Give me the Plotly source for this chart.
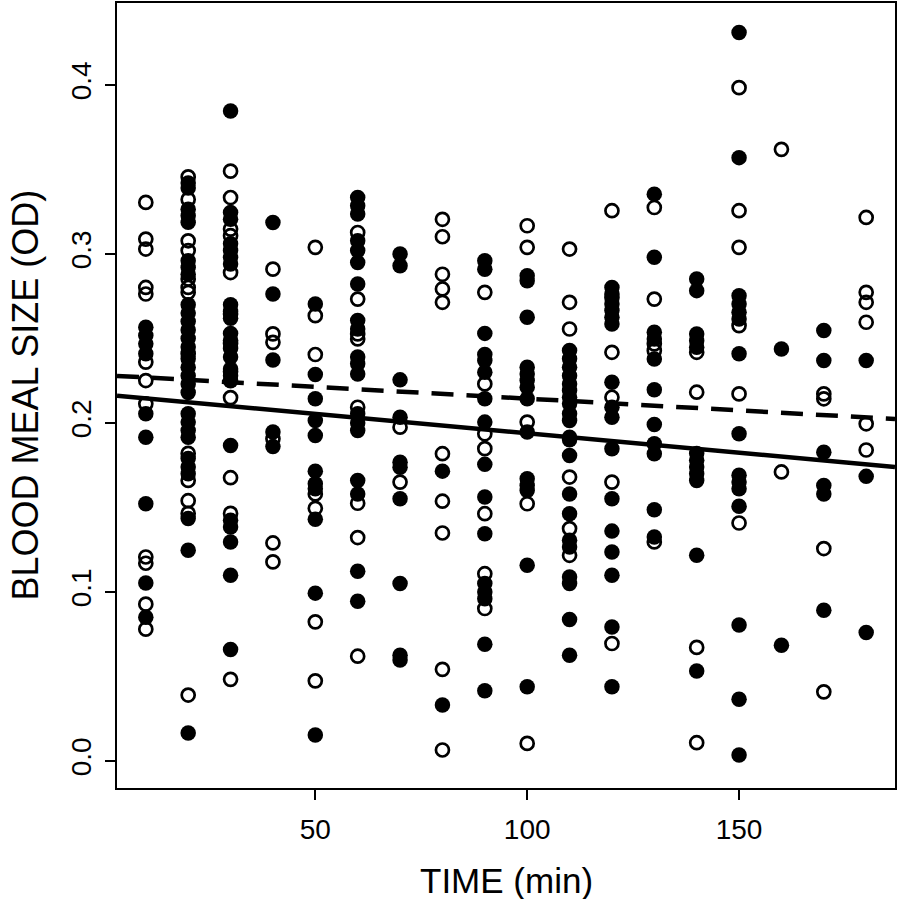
import plotly.graph_objects as go

# ---- data ----
times = [10, 20, 30, 40, 50, 60, 70, 80, 90, 100, 110, 120, 130, 140, 150, 160, 170, 180]

open_od = [
    [0.3305, 0.3088, 0.3029, 0.2802, 0.2763, 0.236, 0.2251, 0.2113, 0.1207, 0.117, 0.0928, 0.078],
    [0.3456, 0.3323, 0.3078, 0.302, 0.2852, 0.2802, 0.2773, 0.241, 0.182, 0.166, 0.154, 0.1465, 0.039],
    [0.349, 0.3334, 0.3147, 0.3108, 0.289, 0.2645, 0.247, 0.2305, 0.215, 0.1676, 0.1465, 0.0483],
    [0.291, 0.2527, 0.2477, 0.1906, 0.129, 0.1178],
    [0.3039, 0.2635, 0.2405, 0.158, 0.1495, 0.0823, 0.0474],
    [0.3127, 0.2733, 0.2527, 0.2497, 0.2093, 0.1525, 0.1322, 0.062],
    [0.1975, 0.165],
    [0.3205, 0.3102, 0.288, 0.2793, 0.2714, 0.1818, 0.1537, 0.1349, 0.0542, 0.0065],
    [0.2773, 0.2231, 0.1936, 0.1848, 0.1463, 0.1108, 0.0902],
    [0.3167, 0.3039, 0.2005, 0.1522, 0.0104],
    [0.3029, 0.2714, 0.2556, 0.168, 0.1375, 0.1217],
    [0.3256, 0.2743, 0.2418, 0.2152, 0.165, 0.0695],
    [0.3275, 0.2733, 0.2468, 0.2428, 0.1296],
    [0.2418, 0.2182, 0.0672, 0.0108],
    [0.3984, 0.3256, 0.3039, 0.2576, 0.2172, 0.1408],
    [0.3619, 0.171],
    [0.2172, 0.2143, 0.1257, 0.0409],
    [0.3216, 0.2773, 0.2714, 0.2596, 0.1995, 0.184],
]

filled_od = [
    [0.2566, 0.2517, 0.2468, 0.2409, 0.2054, 0.1916, 0.1522, 0.1053, 0.085],
    [0.342, 0.339, 0.3265, 0.3226, 0.3187, 0.296, 0.292, 0.288, 0.270, 0.265, 0.260, 0.255,
     0.250, 0.245, 0.238, 0.233, 0.228, 0.223, 0.218, 0.2054, 0.2005, 0.1955, 0.1916, 0.179,
     0.174, 0.170, 0.1435, 0.1247, 0.0165],
    [0.3846, 0.3246, 0.3205, 0.306, 0.302, 0.298, 0.294, 0.270, 0.266, 0.262, 0.253, 0.249,
     0.244, 0.239, 0.232, 0.228, 0.225, 0.1867, 0.1424, 0.1384, 0.1296, 0.1099, 0.066],
    [0.3186, 0.2763, 0.2373, 0.1946, 0.186],
    [0.2704, 0.2287, 0.2143, 0.2015, 0.1926, 0.1715, 0.164, 0.161, 0.143, 0.0993, 0.0154],
    [0.3334, 0.3285, 0.3236, 0.3078, 0.302, 0.295, 0.2822, 0.2606, 0.2556, 0.239, 0.235,
     0.229, 0.2054, 0.200, 0.1955, 0.166, 0.158, 0.1123, 0.0945],
    [0.300, 0.293, 0.2255, 0.2034, 0.1768, 0.1738, 0.1552, 0.105, 0.0626, 0.0597],
    [0.1715, 0.0331],
    [0.296, 0.291, 0.253, 0.2405, 0.2369, 0.23, 0.2143, 0.2005, 0.1755, 0.1562, 0.1345,
     0.105, 0.100, 0.096, 0.0691, 0.0415],
    [0.2871, 0.2842, 0.2625, 0.233, 0.229, 0.2251, 0.2211, 0.2143, 0.1946, 0.167, 0.163,
     0.160, 0.1158, 0.0439],
    [0.2429, 0.238, 0.233, 0.228, 0.2231, 0.2192, 0.2152, 0.2113, 0.2054, 0.2015, 0.1916,
     0.19, 0.1808, 0.158, 0.1463, 0.1306, 0.1266, 0.1089, 0.105, 0.0837, 0.0626],
    [0.2802, 0.2763, 0.2704, 0.2665, 0.2625, 0.2586, 0.2241, 0.2093, 0.2034, 0.1848, 0.1552,
     0.136, 0.1237, 0.1099, 0.0793, 0.0439],
    [0.3354, 0.298, 0.2537, 0.2497, 0.2379, 0.2196, 0.1991, 0.1877, 0.1818, 0.1487, 0.1325],
    [0.2852, 0.2783, 0.2527, 0.2487, 0.2448, 0.182, 0.178, 0.174, 0.170, 0.166, 0.1217, 0.0532],
    [0.431, 0.357, 0.2753, 0.2704, 0.2655, 0.2615, 0.2409, 0.1936, 0.169, 0.165, 0.161,
     0.1507, 0.0804, 0.0365, 0.0035],
    [0.2438, 0.0685],
    [0.2547, 0.2369, 0.1827, 0.163, 0.158, 0.0892],
    [0.2369, 0.1684, 0.076],
]

# fitted regression lines (intercept, slope)
solid_fit = (0.2169, -0.000230)
dashed_fit = (0.2283, -0.000139)

x_ticks = [50, 100, 150]
y_ticks = [0.0, 0.1, 0.2, 0.3, 0.4]
y_tick_text = ["0.0", "0.1", "0.2", "0.3", "0.4"]

x_range = [3.2, 186.8]
y_range = [-0.016, 0.4485]

# ---- build flat series ----
ox, oy, fx, fy = [], [], [], []
for t, vals in zip(times, open_od):
    ox += [t] * len(vals)
    oy += vals
for t, vals in zip(times, filled_od):
    fx += [t] * len(vals)
    fy += vals

FONT = "Liberation Sans, Arial, Helvetica, sans-serif"

fig = go.Figure()
fig.add_trace(go.Scatter(
    x=ox, y=oy, mode="markers",
    marker=dict(symbol="circle-open", size=13, color="black", line=dict(width=2.7, color="black")),
    showlegend=False, hoverinfo="skip"))
fig.add_trace(go.Scatter(
    x=fx, y=fy, mode="markers",
    marker=dict(symbol="circle", size=15.5, color="black", line=dict(width=0)),
    showlegend=False, hoverinfo="skip"))

for (b0, b1), dash in [(solid_fit, "solid"), (dashed_fit, "22px,13px")]:
    fig.add_trace(go.Scatter(
        x=x_range, y=[b0 + b1 * x_range[0], b0 + b1 * x_range[1]],
        mode="lines", line=dict(color="black", width=4.5, dash=dash),
        showlegend=False, hoverinfo="skip"))

fig.update_layout(
    width=898, height=899,
    margin=dict(l=117, r=1, t=2, b=111),
    paper_bgcolor="white", plot_bgcolor="white",
    font=dict(family=FONT, color="black"),
)
fig.update_xaxes(
    range=x_range, showgrid=False, zeroline=False,
    showline=True, mirror=True, linecolor="black", linewidth=2,
    ticks="outside", ticklen=10, tickwidth=2, tickcolor="black",
    tickvals=x_ticks, tickfont=dict(size=28, family=FONT),
    ticklabelstandoff=5,
)
fig.update_yaxes(
    range=y_range, showgrid=False, zeroline=False,
    showline=True, mirror=True, linecolor="black", linewidth=2,
    ticks="outside", ticklen=10, tickwidth=2, tickcolor="black",
    tickvals=y_ticks, ticktext=y_tick_text, tickangle=-90,
    tickfont=dict(size=28, family=FONT),
    ticklabelstandoff=3,
)
fig.add_annotation(text="TIME (min)", xref="paper", yref="paper", x=0.5, y=0,
                   xanchor="center", yanchor="middle", yshift=-92, showarrow=False,
                   font=dict(size=35, family=FONT, color="black"))
fig.add_annotation(text="BLOOD MEAL SIZE (OD)", xref="paper", yref="paper", x=0, y=0.5,
                   xanchor="center", yanchor="middle", xshift=-92, textangle=-90, showarrow=False,
                   font=dict(size=36, family=FONT, color="black"))

fig.write_html(
    "out.html",
    config={"displayModeBar": False},
    post_script="document.body.style.margin='0';document.body.style.overflow='hidden';",
)
